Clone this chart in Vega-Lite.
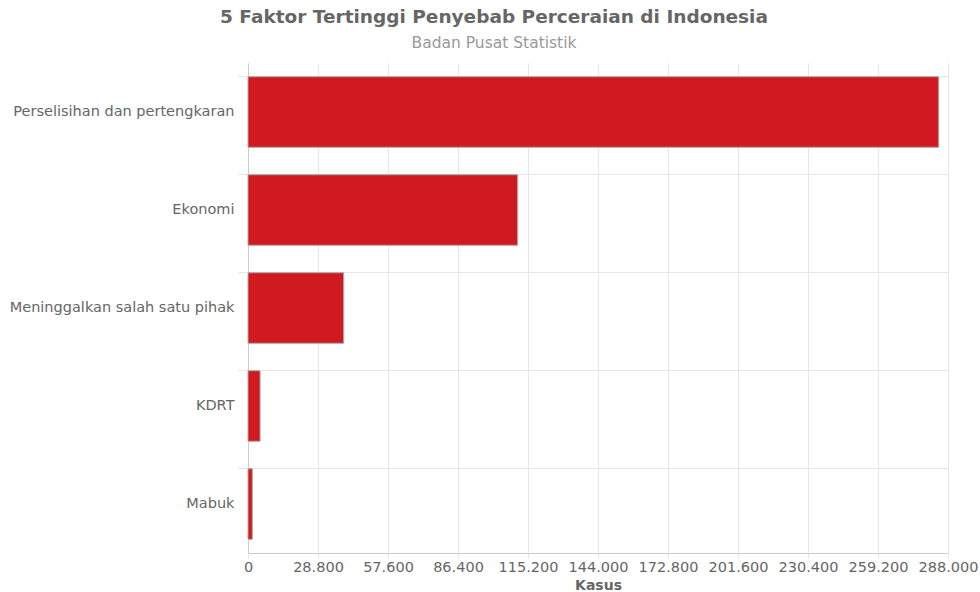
{
  "$schema": "https://vega.github.io/schema/vega-lite/v6.json",
  "width": 700,
  "height": 490,
  "autosize": {"type": "none"},
  "padding": {"left": 248, "top": 63, "right": 32, "bottom": 39},
  "background": "white",
  "config": {
    "locale": {"number": {"decimal": ",", "thousands": ".", "grouping": [3], "currency": ["", ""]}},
    "font": "DejaVu Sans",
    "view": {"stroke": null}
  },
  "title": {
    "text": "5 Faktor Tertinggi Penyebab Perceraian di Indonesia",
    "subtitle": "Badan Pusat Statistik",
    "anchor": "middle",
    "dx": -104,
    "offset": 12,
    "fontSize": 18.5,
    "fontWeight": "bold",
    "color": "#666666",
    "subtitleFontSize": 15.5,
    "subtitleColor": "#999999",
    "subtitlePadding": 9
  },
  "data": {
    "values": [
      {"faktor": "Perselisihan dan pertengkaran", "kasus": 284169},
      {"faktor": "Ekonomi", "kasus": 110939},
      {"faktor": "Meninggalkan salah satu pihak", "kasus": 39359},
      {"faktor": "KDRT", "kasus": 4972},
      {"faktor": "Mabuk", "kasus": 1781}
    ]
  },
  "mark": {"type": "bar", "color": "#d11a1f", "stroke": "#aaaaaa", "strokeWidth": 1},
  "encoding": {
    "y": {
      "field": "faktor",
      "type": "nominal",
      "sort": null,
      "scale": {"paddingInner": 0.28, "paddingOuter": 0.14},
      "axis": {
        "title": null,
        "bandPosition": 0,
        "grid": true,
        "gridColor": "#e6e6e6",
        "tickColor": "#e6e6e6",
        "tickSize": 10,
        "domainColor": "#cccccc",
        "labelColor": "#666666",
        "labelFontSize": 14.5,
        "labelLimit": 0,
        "labelPadding": 4
      }
    },
    "x": {
      "field": "kasus",
      "type": "quantitative",
      "scale": {"domain": [0, 288000], "nice": false},
      "axis": {
        "title": "Kasus",
        "values": [0, 28800, 57600, 86400, 115200, 144000, 172800, 201600, 230400, 259200, 288000],
        "format": ",.0f",
        "grid": true,
        "gridColor": "#e6e6e6",
        "tickColor": "#e6e6e6",
        "tickSize": 5,
        "domainColor": "#cccccc",
        "labelColor": "#666666",
        "labelFontSize": 14.5,
        "labelOverlap": false,
        "labelFlush": false,
        "labelBound": false,
        "labelPadding": 2,
        "titleColor": "#666666",
        "titleFontSize": 14,
        "titleFontWeight": "bold",
        "titlePadding": 5
      }
    }
  }
}
